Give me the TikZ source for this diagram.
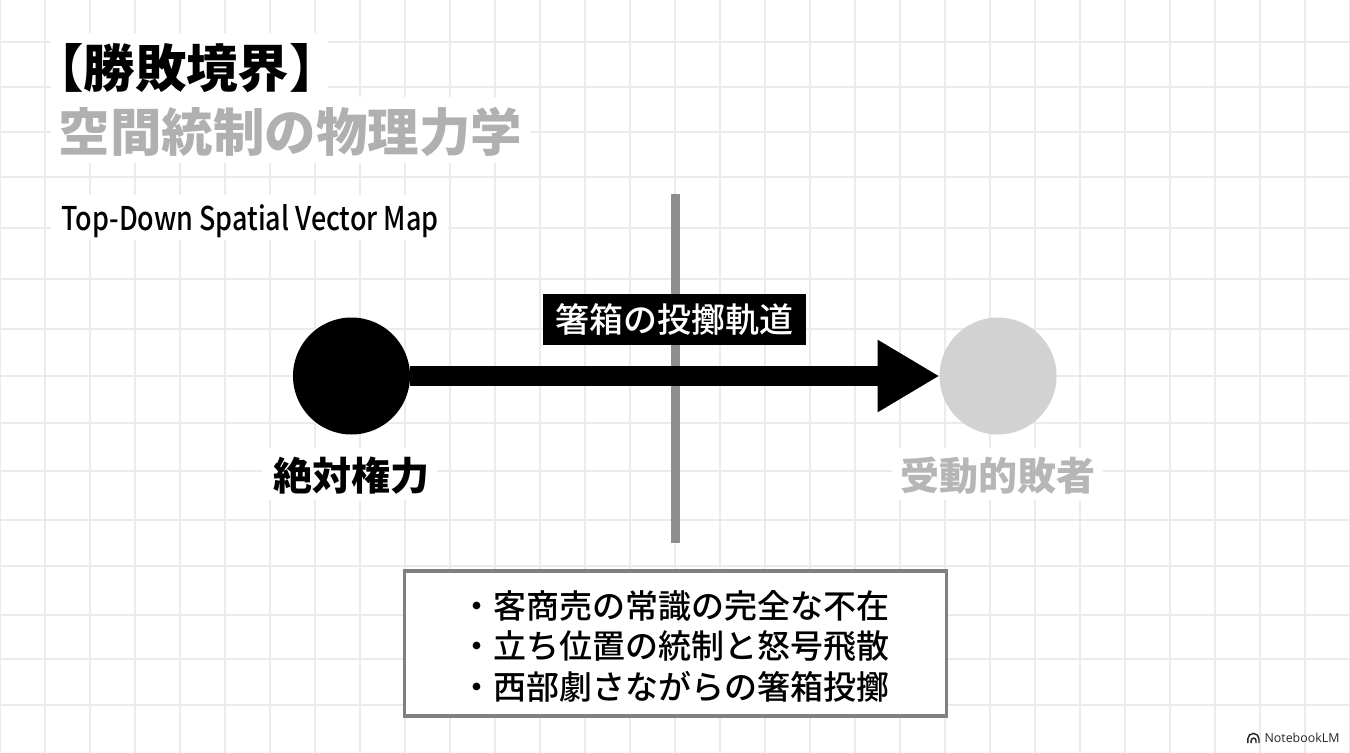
\documentclass[tikz,border=0pt]{standalone}
\usepackage{fontspec}
\usetikzlibrary{arrows.meta}
\setmainfont{Noto Sans CJK JP}
\newfontfamily\jpmedium{Noto Sans CJK JP Medium}
\newfontfamily\mapfont[FakeStretch=0.825]{Noto Sans CJK JP Medium}
\newfontfamily\brandfont{Open Sans}
\definecolor{gridgray}{HTML}{EBEBEB}
\definecolor{heading}{HTML}{B0B0B0}
\definecolor{faded}{HTML}{D2D2D2}
\definecolor{fadedtext}{HTML}{B6B6B6}
\definecolor{barline}{HTML}{8E8E8E}
\definecolor{boxline}{HTML}{808080}
\tikzset{
  gridline/.style={draw=gridgray,line width=0.9pt},
  gridgap/.style={fill=white},
  player/.style={circle,inner sep=0pt,outer sep=0pt,minimum size=87.75pt},
  jplabel/.style={font=\fontsize{29.25pt}{29.25pt}\bfseries\selectfont,inner sep=0pt,anchor=base},
  trajectory/.style={line width=15pt,-{Triangle[length=46.5pt,width=51pt]}},
  brandline/.style={line width=1.1pt,draw=black!85},
}
\begin{document}
\begin{tikzpicture}[x=0.75pt,y=0.75pt,yscale=-1,xscale=1]
        \useasboundingbox[fill=white] (0,0) rectangle (1350,753);

        %Grid
        \foreach \gx in {0,45,...,1350} \draw[gridline] (\gx,0) -- (\gx,753);
        \foreach \gy in {42,87,132,177,228,279,329,376,423,471,520,566,615,659,705} \draw[gridline] (0,\gy) -- (1350,\gy);

        %Gaps in the grid behind the texts
        \fill[gridgap] (51,33) rectangle (328,97);
        \fill[gridgap] (51,97) rectangle (530,163);
        \fill[gridgap] (51,195) rectangle (448,240);
        \fill[gridgap] (262,448) rectangle (437,500);
        \fill[gridgap] (892,448) rectangle (1103,500);

        %Border line
        \coordinate (bordertop) at (675.5,194);
        \coordinate (borderbottom) at (675.5,542.5);
        \draw[draw=barline,line width=7pt] (bordertop) -- (borderbottom);

        %Players and trajectory
        \draw (351.5,376) node (winner) [player,fill=black] {};
        \draw (998,376) node (loser) [player,fill=faded] {};
        \draw[trajectory] (winner) -- (loser);

        % Text Node
        \draw (186.5,87) node (title) [inner sep=0pt,anchor=base,font=\fontsize{38.6pt}{38.6pt}\bfseries\selectfont] {【勝敗境界】};
        % Text Node
        \draw (290.5,151.5) node (subtitle) [inner sep=0pt,anchor=base,text=heading,font=\fontsize{38.6pt}{38.6pt}\bfseries\selectfont] {空間統制の物理力学};
        % Text Node
        \draw (250,230) node (maptitle) [inner sep=0pt,anchor=base,font=\fontsize{24.5pt}{24.5pt}\mapfont] {Top-Down Spatial Vector Map};
        % Text Node
        \draw (674.5,319.5) node (throw) [fill=black,text=white,minimum width=197pt,minimum height=38.25pt,inner sep=0pt,font=\fontsize{25.5pt}{25.5pt}\jpmedium] {箸箱の投擲軌道};
        % Text Node
        \draw (351.5,490.5) node (winnerlabel) [jplabel] {絶対権力};
        % Text Node
        \draw (998,490.5) node (loserlabel) [jplabel,text=fadedtext] {受動的敗者};
        % Text Node
        \draw (675.25,643.5) node (facts) [draw=boxline,fill=white,line width=2.6pt,minimum width=406.5pt,minimum height=108.75pt,inner sep=0pt,align=center,font=\fontsize{24.75pt}{30.4pt}\jpmedium] {\rule{0pt}{25pt}・客商売の常識の完全な不在\\・立ち位置の統制と怒号飛散\\・西部劇さながらの箸箱投擲};

        %Brand mark
        \draw[brandline] (1247.8,743) -- (1247.8,739) arc[start angle=180,end angle=360,radius=5.6] -- (1259,743);
        \draw[brandline] (1251.2,743) -- (1251.2,740.5) arc[start angle=180,end angle=360,radius=2.4] -- (1256,743);
        % Text Node
        \draw (1302,742.5) node (brand) [inner sep=0pt,anchor=base,text=black!85,font=\fontsize{9.3pt}{9.3pt}\brandfont] {NotebookLM};
\end{tikzpicture}
\end{document}
